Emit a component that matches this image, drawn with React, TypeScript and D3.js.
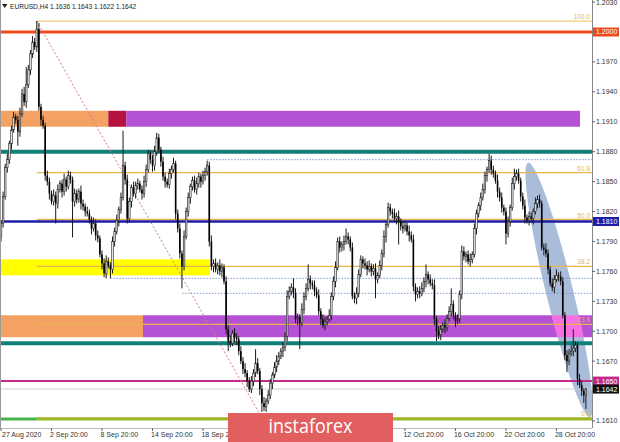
import React from 'react';
import * as d3 from 'd3';

// ---------- data ----------
const firstOpen = 1.1795;
const closes = [
  1.1808,1.1835,1.1864,1.1872,1.1888,1.1902,1.1915,1.1912,1.1900,1.1918,
  1.1938,1.1930,1.1947,1.1962,1.1978,1.1990,1.1985,1.2003,1.1925,1.1912,
  1.1906,1.1856,1.1850,1.1838,1.1830,1.1836,1.1828,1.1842,1.1848,1.1840,
  1.1852,1.1845,1.1856,1.1852,1.1830,1.1838,1.1832,1.1840,1.1828,1.1825,
  1.1820,1.1818,1.1812,1.1803,1.1808,1.1796,1.1793,1.1777,1.1768,1.1758,
  1.1770,1.1766,1.1762,1.1790,1.1800,1.1811,1.1822,1.1834,1.1866,1.1852,
  1.1813,1.1830,1.1844,1.1838,1.1846,1.1848,1.1842,1.1838,1.1850,1.1862,
  1.1878,1.1872,1.1866,1.1880,1.1894,1.1882,1.1870,1.1855,1.1850,1.1847,
  1.1858,1.1862,1.1868,1.1818,1.1803,1.1778,1.1765,1.1795,1.1820,1.1834,
  1.1845,1.1851,1.1842,1.1848,1.1855,1.1850,1.1856,1.1860,1.1866,1.1790,
  1.1765,1.1768,1.1762,1.1766,1.1760,1.1764,1.1750,1.1702,1.1690,1.1688,
  1.1698,1.1694,1.1692,1.1680,1.1670,1.1662,1.1658,1.1650,1.1642,1.1650,
  1.1658,1.1668,1.1660,1.1642,1.1628,1.1624,1.1630,1.1636,1.1648,1.1656,
  1.1664,1.1670,1.1675,1.1680,1.1684,1.1695,1.1735,1.1740,1.1744,1.1738,
  1.1712,1.1714,1.1708,1.1722,1.1735,1.1743,1.1752,1.1748,1.1746,1.1740,
  1.1736,1.1720,1.1712,1.1706,1.1710,1.1712,1.1716,1.1735,1.1750,1.1764,
  1.1790,1.1784,1.1787,1.1790,1.1795,1.1792,1.1784,1.1735,1.1733,1.1738,
  1.1757,1.1772,1.1768,1.1766,1.1762,1.1765,1.1760,1.1763,1.1752,1.1756,
  1.1766,1.1778,1.1795,1.1807,1.1824,1.1820,1.1818,1.1813,1.1815,1.1810,
  1.1805,1.1803,1.1806,1.1800,1.1796,1.1792,1.1745,1.1737,1.1740,1.1738,
  1.1743,1.1750,1.1757,1.1752,1.1748,1.1746,1.1712,1.1700,1.1696,1.1702,
  1.1706,1.1704,1.1713,1.1720,1.1727,1.1716,1.1710,1.1712,1.1737,1.1780,
  1.1775,1.1777,1.1770,1.1772,1.1777,1.1803,1.1818,1.1826,1.1834,1.1842,
  1.1856,1.1862,1.1871,1.1862,1.1858,1.1851,1.1840,1.1834,1.1824,1.1820,
  1.1798,1.1810,1.1824,1.1848,1.1855,1.1858,1.1851,1.1835,1.1826,1.1814,
  1.1811,1.1815,1.1813,1.1820,1.1828,1.1832,1.1828,1.1784,1.1782,1.1778,
  1.1762,1.1748,1.1744,1.1752,1.1756,1.1755,1.1750,1.1716,1.1676,1.1670,
  1.1678,1.1680,1.1683,1.1686,1.1652,1.1646,1.1640,1.1636,1.1642,
];
// wick lengths in pips above/below the candle body
const upWick = [
  3,5,4,6,3,4,5,3,4,6,5,7,18,5,4,6,4,8,6,3,
  4,3,5,4,3,6,4,5,3,4,6,3,5,4,3,5,4,3,6,4,
  3,5,4,3,6,4,5,3,4,5,6,4,3,5,4,6,3,5,35,4,
  5,4,3,6,4,5,3,4,6,5,4,3,5,6,5,4,3,5,4,3,
  5,4,6,3,4,5,3,6,4,5,3,4,5,6,4,3,5,4,5,4,
  6,4,5,3,6,4,3,5,4,6,3,5,4,3,5,4,6,3,4,5,
  4,14,5,3,4,6,3,5,4,3,5,6,4,3,5,4,6,5,4,9,
  5,4,3,6,4,5,15,4,3,5,4,6,3,5,4,3,6,4,5,6,
  4,5,3,6,8,4,3,5,4,6,5,4,3,5,4,6,3,4,5,3,
  5,4,6,3,5,4,3,5,4,6,3,5,4,3,6,4,5,3,4,5,
  6,4,10,3,5,4,6,3,5,4,3,6,4,5,16,4,3,5,4,6,
  5,3,4,6,3,5,4,3,5,6,4,3,7,5,4,3,6,4,5,3,
  4,5,3,6,8,4,5,3,4,6,3,5,4,3,6,4,5,3,4,6,
  4,3,5,4,6,3,5,4,3,5,4,6,19,4,3,5,4,3,1,
];
const dnWick = [
  5,4,3,5,4,6,3,4,14,5,3,4,6,3,5,4,3,5,4,6,
  3,5,4,6,3,4,20,5,3,6,4,5,3,4,36,5,4,3,6,4,
  5,3,4,6,3,5,4,3,6,4,5,3,9,4,5,3,6,4,3,5,
  5,4,6,3,5,4,3,6,4,5,3,4,6,5,4,3,5,4,6,3,
  4,5,3,6,4,5,22,4,3,5,6,4,3,5,4,6,3,5,4,5,
  4,6,3,5,4,6,3,5,10,4,3,5,6,4,3,5,4,6,3,4,
  5,4,3,6,9,4,5,3,4,6,3,5,4,3,6,4,5,3,4,5,
  4,6,26,3,5,4,3,6,4,5,3,4,6,3,5,4,3,5,4,6,
  3,5,4,6,3,5,4,3,5,6,4,3,5,4,6,3,5,4,19,4,
  3,5,4,6,3,4,5,3,6,23,4,5,3,4,6,3,5,7,4,5,
  3,4,6,5,3,4,6,10,4,5,3,6,4,3,5,4,6,3,4,5,
  4,6,3,5,4,3,6,4,5,3,4,6,3,5,4,3,6,4,5,4,
  11,4,5,3,6,4,3,5,4,6,3,5,4,6,3,5,4,3,6,4,
  5,3,4,6,3,5,4,3,5,11,4,3,5,4,6,3,5,8,14,
];

const xTickIdx = [0, 24, 48, 72, 96, 120, 144, 168, 192, 216, 240, 264];
const xTickLabels = ['27 Aug 2020', '2 Sep 20:00', '8 Sep 20:00', '14 Sep 20:00', '18 Sep 20:00',
  '24 Sep 20:00', '30 Sep 20:00', '6 Oct 20:00', '12 Oct 20:00', '16 Oct 20:00', '22 Oct 20:00', '28 Oct 20:00'];
const yTicks = [1.1610, 1.1640, 1.1670, 1.1700, 1.1730, 1.1760, 1.1790, 1.1820, 1.1850,
  1.1880, 1.1910, 1.1940, 1.1970, 1.2000, 1.2030];

const fibHigh = { bar: 17, price: 1.2011 };
const fibLow = { bar: 124, price: 1.1613 };
const fibLevels = [0, 0.236, 0.382, 0.5, 0.618, 1];
const fibLabels = ['0.0', '23.6', '38.2', '50.0', '61.8', '100.0'];

// horizontal levels
const levelPrices = [1.2000, 1.1880, 1.1810, 1.1688, 1.1650, 1.1642, 1.1612];
const levelNames = ['red', 'teal', 'blue', 'teal', 'magenta', 'last', 'olive'];

// dotted levels (price, starting bar)
const dottedPrices = [1.1872, 1.1753, 1.1738];
const dottedStart = [98, 52, 86];

// zones: [barFrom, barTo], [priceTop, priceBottom]
const zoneNames = ['orange', 'crimson', 'purple', 'yellow', 'orange', 'purple'];
const zoneBars = [[-2, 51], [51, 59.5], [59.5, 275.2], [-2, 99.3], [-2, 67.5], [67.5, 300]];
const zonePrices = [[1.1921, 1.1905], [1.1921, 1.1905], [1.1921, 1.1905], [1.1772, 1.1756], [1.1716, 1.1694], [1.1716, 1.1694]];

const ellipseStart = { bar: 250.5, price: 1.1869 };
const ellipseEnd = { bar: 280, price: 1.1614 };

const priceTags = [1.2000, 1.1810, 1.1650, 1.1642];
const priceTagNames = ['red', 'blue', 'magenta', 'black'];

const header = 'EURUSD,H4  1.1636 1.1643 1.1622 1.1642';

// ---------- styles ----------
const COLORS: Record<string, string> = {
  red: '#ee4a1c', teal: '#11807a', blue: '#1d1daa', magenta: '#c4288c', last: '#cfcfcf',
  olive: '#9ab82a', black: '#111', orange: '#f4a263', crimson: '#b5123f', purple: '#b451d4',
  yellow: '#ffff00', fib: '#e9b54a', fibTop: '#f2cc78',
};
const LEVEL_W: Record<string, number> = { red: 3, teal: 4, blue: 2.5, magenta: 2, last: 1, olive: 3 };

const W = 620, H = 442, PR = 592, PB = 428;
const FONT = 'Liberation Sans, Arial, sans-serif';
const WM = { x: 228, y: 413, w: 165, h: 29 };

export default function App() {
  const x = d3.scaleLinear().domain([0, 278]).range([1, 1 + 278 * 2.104]);
  const y = d3.scaleLinear().domain([1.2, 1.161]).range([32, 32 + 0.039 * 9974]);

  const candles = closes.map((c, i) => {
    const o = i === 0 ? firstOpen : closes[i - 1];
    const h = Math.max(o, c) + upWick[i] / 10000;
    const l = Math.min(o, c) - dnWick[i] / 10000;
    return { i, o, h, l, c };
  });

  const ex1 = x(ellipseStart.bar), ey1 = y(ellipseStart.price);
  const ex2 = x(ellipseEnd.bar), ey2 = y(ellipseEnd.price);
  const ecx = (ex1 + ex2) / 2, ecy = (ey1 + ey2) / 2;
  const erx = Math.hypot(ex2 - ex1, ey2 - ey1) / 2;
  const eang = (Math.atan2(ey2 - ey1, ex2 - ex1) * 180) / Math.PI;
  const ellipse = (props: any) => (
    <ellipse cx={ecx} cy={ecy} rx={erx} ry={13.5} transform={`rotate(${eang} ${ecx} ${ecy})`} {...props} />
  );

  const fibPrice = (lv: number) => fibLow.price + lv * (fibHigh.price - fibLow.price);
  const zx = (b: number) => Math.max(0, Math.min(PR, x(b)));

  // axis labels hidden under price tags or the watermark are not drawn (as in the original)
  const visibleYTicks = yTicks.filter((t) => priceTags.every((p) => Math.abs(y(p) - y(t)) > 6));
  const visibleXTicks = xTickIdx
    .map((b, k) => ({ b, label: xTickLabels[k], lx: Math.max(2, x(b) - 1.5) }))
    .filter((d) => !(d.lx > WM.x && d.lx + 40 < WM.x + WM.w));

  return (
    <svg width={W} height={H} style={{ position: 'absolute', left: 0, top: 0, background: '#fff' }}
      fontFamily={FONT}>
      <defs>
        <clipPath id="plot"><rect x={0} y={0} width={PR} height={PB} /></clipPath>
        <clipPath id="ell">{ellipse({})}</clipPath>
        <clipPath id="xlab">
          <rect x={0} y={PB} width={WM.x} height={H - PB} />
          <rect x={WM.x + WM.w} y={PB} width={W - WM.x - WM.w} height={H - PB} />
        </clipPath>
      </defs>
      <rect x={0} y={0} width={W} height={H} fill="#fff" />
      <g clipPath="url(#plot)">
        {zoneNames.map((n, k) => (
          <rect key={'z' + k} x={zx(zoneBars[k][0])} width={zx(zoneBars[k][1]) - zx(zoneBars[k][0])}
            y={y(zonePrices[k][0])} height={y(zonePrices[k][1]) - y(zonePrices[k][0])} fill={COLORS[n]} />
        ))}
        {ellipse({ fill: '#a9bddb' })}
        <rect x={zx(zoneBars[5][0])} width={zx(zoneBars[5][1]) - zx(zoneBars[5][0])}
          y={y(zonePrices[5][0])} height={y(zonePrices[5][1]) - y(zonePrices[5][0])}
          fill="#f56fe2" clipPath="url(#ell)" />
        {dottedPrices.map((p, k) => (
          <line key={'d' + k} x1={x(dottedStart[k])} x2={PR} y1={y(p)} y2={y(p)}
            stroke="#7d9ad0" strokeWidth={1} strokeDasharray="1.5,1.5" />
        ))}
        {fibLevels.map((lv, k) => (
          <line key={'f' + k} x1={x(fibHigh.bar)} x2={PR} y1={y(fibPrice(lv))} y2={y(fibPrice(lv))}
            stroke={lv === 1 ? COLORS.fibTop : COLORS.fib} strokeWidth={1.3} />
        ))}
        <line x1={x(fibHigh.bar)} x2={x(fibHigh.bar)} y1={y(fibHigh.price)} y2={y(fibHigh.price) + 7}
          stroke={COLORS.fibTop} strokeWidth={1} />
        {levelPrices.map((p, k) => {
          const n = levelNames[k];
          if (n === 'olive') {
            return (
              <g key={'l' + k}>
                <line x1={0} x2={x(17)} y1={y(p)} y2={y(p)} stroke="#45b449" strokeWidth={3} />
                <line x1={x(17)} x2={PR} y1={y(p)} y2={y(p)} stroke={COLORS.olive} strokeWidth={3} />
              </g>
            );
          }
          return <line key={'l' + k} x1={0} x2={PR} y1={y(p)} y2={y(p)} stroke={COLORS[n]} strokeWidth={LEVEL_W[n]} />;
        })}
        <line x1={x(fibHigh.bar)} y1={y(fibHigh.price)} x2={x(fibLow.bar)} y2={y(fibLow.price)}
          stroke="#d27d7d" strokeWidth={1} strokeDasharray="2,2" />
        {candles.map((d) => {
          const cx = x(d.i);
          const bull = d.c >= d.o;
          const top = y(Math.max(d.o, d.c));
          const bh = Math.max(0.8, y(Math.min(d.o, d.c)) - top);
          return (
            <g key={'c' + d.i}>
              <line x1={cx} x2={cx} y1={y(d.h)} y2={y(d.l)} stroke="#1a1a1a" strokeWidth={1} />
              <rect x={cx - 0.8} width={1.6} y={top} height={bh}
                fill={bull ? '#e8e8e8' : '#000'} stroke={bull ? '#222' : 'none'} strokeWidth={0.6} />
            </g>
          );
        })}
        {fibLevels.map((lv, k) => (
          <text key={'fl' + k} x={590} y={y(fibPrice(lv)) - 2} textAnchor="end" fontSize={6.5}
            fill={COLORS.fib}>{fibLabels[k]}</text>
        ))}
      </g>

      {/* axes */}
      <line x1={PR + 0.5} x2={PR + 0.5} y1={0} y2={PB} stroke="#888" strokeWidth={1} />
      <line x1={0} x2={PR} y1={PB + 0.5} y2={PB + 0.5} stroke="#bbb" strokeWidth={1} />
      <line x1={0.5} x2={0.5} y1={0} y2={PB} stroke="#999" strokeWidth={1} />
      {yTicks.map((t) => (
        <line key={'ytl' + t} x1={PR} x2={PR + 3} y1={y(t)} y2={y(t)} stroke="#666" />
      ))}
      {visibleYTicks.map((t) => (
        <text key={'yt' + t} x={PR + 4} y={y(t)} dy="0.35em" fontSize={7} fill="#333">{t.toFixed(4)}</text>
      ))}
      {priceTags.map((p, k) => (
        <g key={'pt' + k}>
          <rect x={PR + 1} y={y(p) - 4.5} width={26} height={9} fill={COLORS[priceTagNames[k]]} />
          <text x={PR + 4} y={y(p)} dy="0.35em" fontSize={7} fill="#fff">{p.toFixed(4)}</text>
        </g>
      ))}
      {xTickIdx.map((b) => (
        <line key={'xtl' + b} x1={x(b)} x2={x(b)} y1={PB} y2={PB + 3} stroke="#666" />
      ))}
      <g clipPath="url(#xlab)">
        {visibleXTicks.map((d) => (
          <text key={'xt' + d.b} x={d.lx} y={437} fontSize={7} fill="#333">{d.label}</text>
        ))}
      </g>

      {/* header */}
      <polygon points="2,4 7.5,4 4.75,8" fill="#222" />
      <text x={10} y={8.5} fontSize={6.6} fill="#222">{header}</text>

      {/* watermark */}
      <rect x={WM.x} y={WM.y} width={WM.w} height={WM.h} fill="#e15f5f" />
      <text x={WM.x + WM.w / 2} y={433} textAnchor="middle" fontSize={20} fill="#fff"
        fontFamily="Open Sans, sans-serif" textLength={84} lengthAdjust="spacingAndGlyphs">instaforex</text>
    </svg>
  );
}
